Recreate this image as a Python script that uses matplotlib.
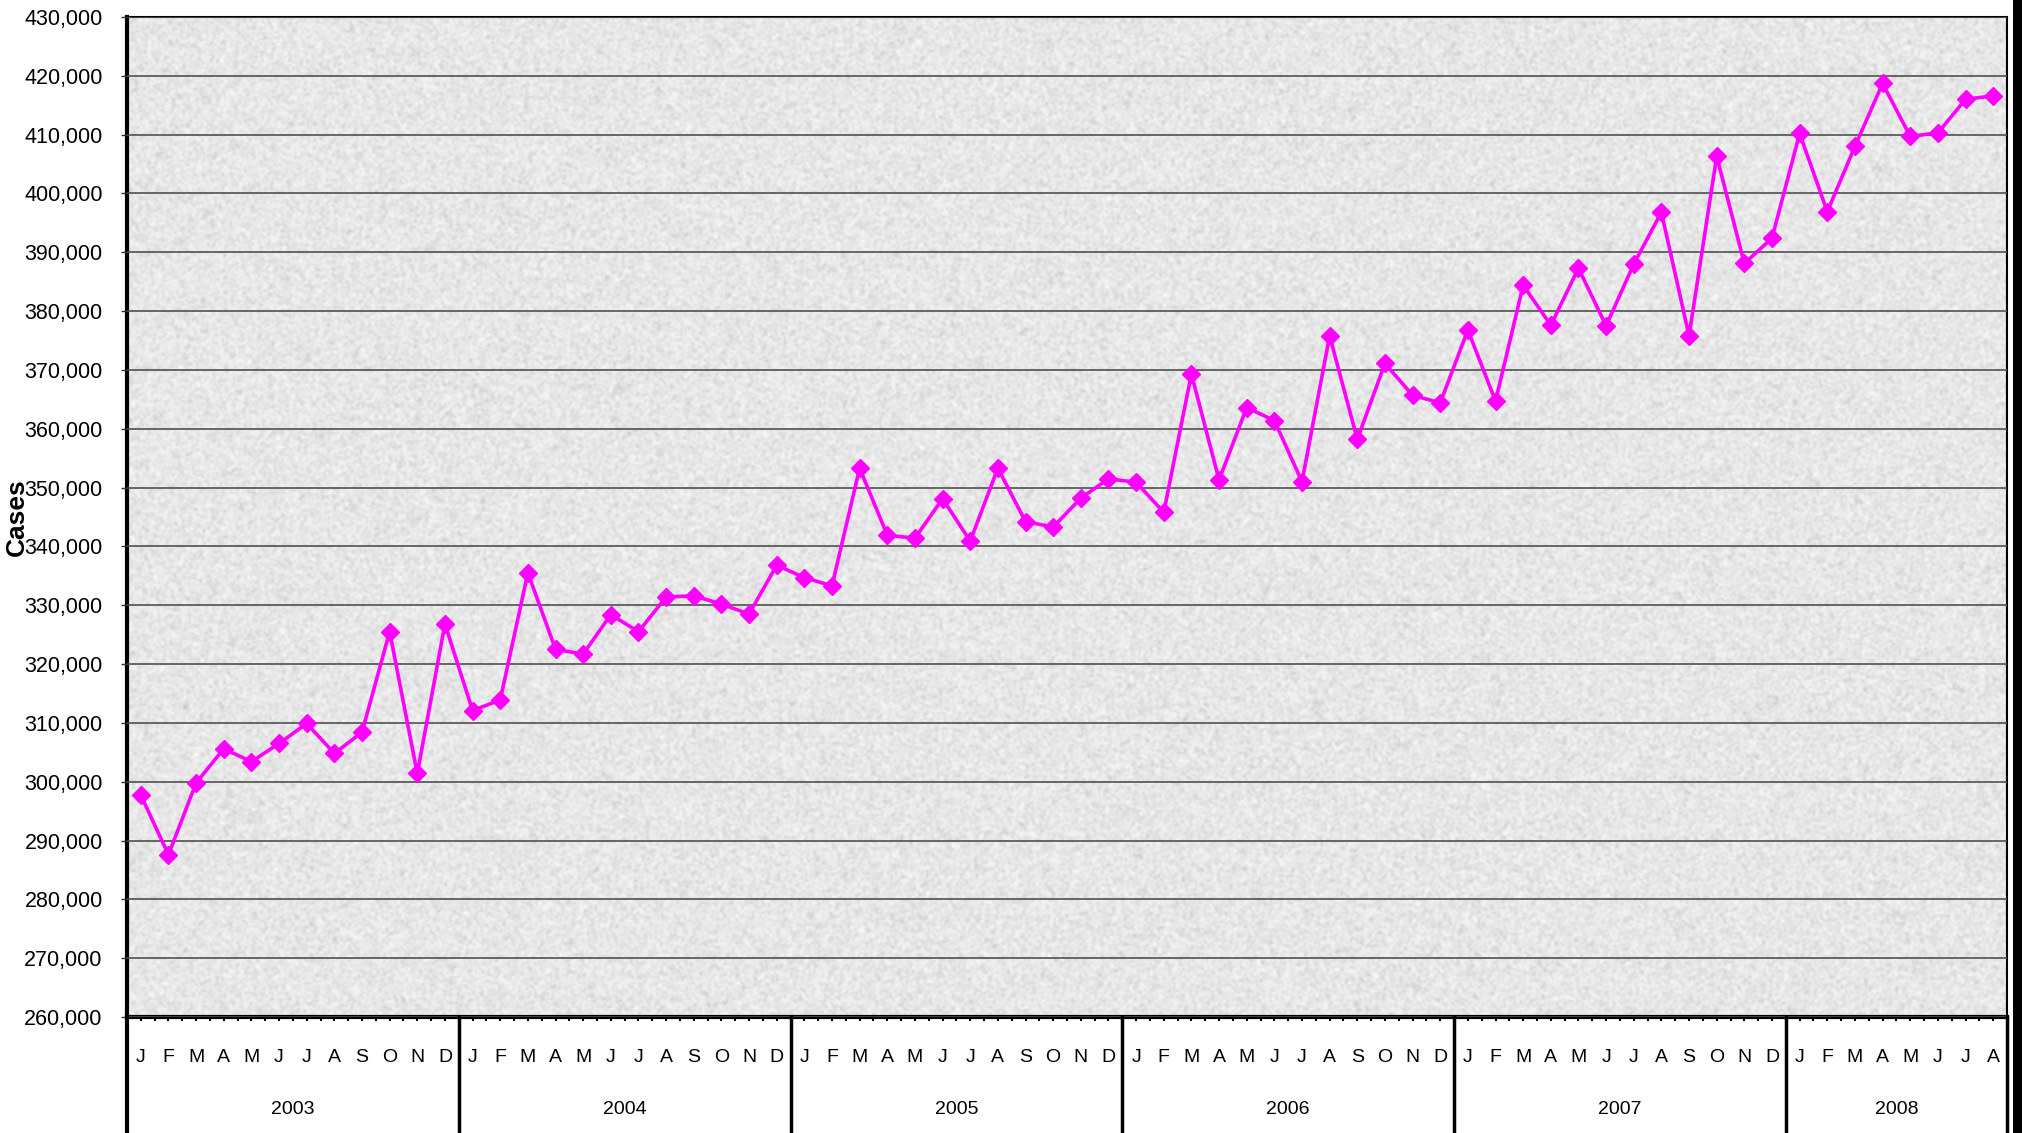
import numpy as np
import matplotlib
matplotlib.use("Agg")
import matplotlib.pyplot as plt
from matplotlib.ticker import FuncFormatter, MultipleLocator
from matplotlib.patches import Rectangle
import matplotlib.transforms as mtransforms

plt.rcParams['font.family'] = ['Liberation Sans', 'DejaVu Sans']

# ---------------- data ----------------
years = ['2003', '2004', '2005', '2006', '2007', '2008']
months_per_year = [12, 12, 12, 12, 12, 8]
month_letters = ['J', 'F', 'M', 'A', 'M', 'J', 'J', 'A', 'S', 'O', 'N', 'D']

cases_2003 = [297700, 287600, 299800, 305600, 303400, 306500, 309900, 304800, 308400, 325500, 301400, 326800]
cases_2004 = [312100, 313900, 335500, 322500, 321700, 328400, 325500, 331400, 331600, 330200, 328500, 336800]
cases_2005 = [334700, 333300, 353300, 341900, 341400, 348100, 340900, 353300, 344200, 343300, 348200, 351500]
cases_2006 = [350900, 345800, 369300, 351300, 363600, 361400, 351000, 375800, 358200, 371100, 365700, 364400]
cases_2007 = [376800, 364700, 384400, 377600, 387300, 377500, 388000, 396800, 375800, 406300, 388100, 392400]
cases_2008 = [410200, 396900, 408000, 418700, 409700, 410300, 416000, 416600]

y_min, y_max, y_step = 260000, 430000, 10000

values = cases_2003 + cases_2004 + cases_2005 + cases_2006 + cases_2007 + cases_2008
labels = []
for n in months_per_year:
    labels += month_letters[:n]
x = np.arange(len(values))

# ---------------- figure ----------------
W, H = 2022, 1133
fig = plt.figure(figsize=(W / 100, H / 100), dpi=100)
fig.patch.set_facecolor('white')

L, R, T, B = 127, 2007, 17, 1017
ax = fig.add_axes([L / W, (H - B) / H, (R - L) / W, (B - T) / H])

# textured background
rng = np.random.default_rng(3)
noise = rng.random((700, 1300))
k = np.array([1, 2, 1], float)
k /= k.sum()
for axis in (0, 1):
    noise = np.apply_along_axis(lambda r: np.convolve(r, k, mode='same'), axis, noise)
noise = (noise - noise.min()) / (noise.max() - noise.min())
tex = 0.76 + 0.22 * noise ** 0.6
ax.imshow(tex, cmap='gray', vmin=0, vmax=1, extent=[0, 1, 0, 1],
          transform=ax.transAxes, aspect='auto', zorder=0, interpolation='bilinear')

ax.set_xlim(-0.5, len(values) - 0.5)
ax.set_ylim(y_min, y_max)

# gridlines
ax.yaxis.set_major_locator(MultipleLocator(y_step))
ax.grid(axis='y', color='#505050', linewidth=1.2, zorder=1)
ax.set_axisbelow(False)

ax.plot(x, values, color='#FF00FF', linewidth=2.6, marker='D', markersize=9,
        markeredgecolor='#FF00FF', zorder=3)

# y axis
ax.yaxis.set_major_formatter(FuncFormatter(lambda v, p: f"{int(v):,}"))
ax.tick_params(axis='y', length=4.5, width=1, color='#333333', labelsize=15.5, pad=13)
fig.text(17 / W, 1 - 517 / H, 'Cases', rotation=90, ha='center', va='center',
         fontsize=19, fontweight='bold')

# x axis
ax.set_xticks(x)
ax.set_xticklabels(labels)
ax.set_xticks(x[:-1] + 0.5, minor=True)
ax.tick_params(axis='x', which='both', length=3, width=1.5, color='black',
               labelsize=14, pad=20, direction='out')

for s in ['left', 'bottom']:
    ax.spines[s].set_linewidth(3)
for s in ['top', 'right']:
    ax.spines[s].set_linewidth(1.5)

# year labels and separators
trans = mtransforms.blended_transform_factory(ax.transData, ax.transAxes)
y_bottom = -(H - B) / (B - T)
start = 0
bounds = [-0.5]
for yr, n in zip(years, months_per_year):
    ax.text(start + (n - 1) / 2, (B - 1109) / (B - T), yr, transform=trans,
            ha='center', va='center', fontsize=14)
    start += n
    bounds.append(start - 0.5)
for b in bounds:
    lw = 3 if b == bounds[0] else 2.5
    ax.plot([b, b], [0, y_bottom], transform=trans, color='black',
            linewidth=lw, clip_on=False, zorder=5)

# black strip on right edge
fig.patches.append(Rectangle((2013 / W, 0), 1, 1, transform=fig.transFigure,
                             facecolor='black', edgecolor='none', zorder=10))

fig.savefig('out.png', dpi=100)
